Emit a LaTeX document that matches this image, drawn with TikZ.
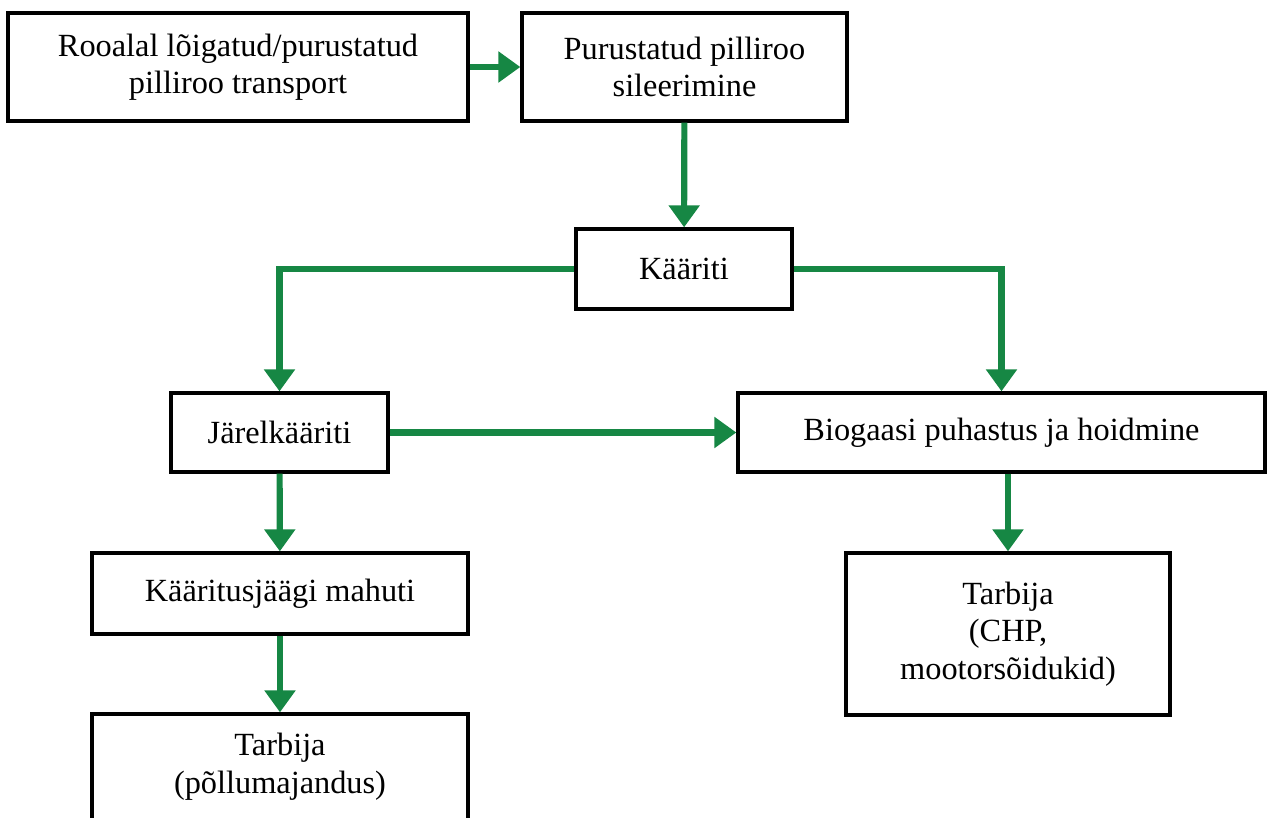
\documentclass[tikz,border=0pt]{standalone}
\usepackage{fontspec}
\setmainfont{Liberation Serif}
\usetikzlibrary{arrows.meta}
\definecolor{flowgreen}{RGB}{22,135,68}
\tikzset{
  box/.style={draw, line width=1.9pt, align=center, inner sep=0pt, font=\fontsize{18.4}{21.5}\selectfont},
  flow/.style={draw=flowgreen, line width=3.5pt, -{Triangle[length=0.44cm,width=0.6cm]}}
}

\begin{document}
\begin{tikzpicture}
    \clip (0,0) rectangle (25.36,-16.36);
    \node[box, minimum width=9.2cm, minimum height=2.16cm] (transport) at (4.76,-1.34) {\raisebox{-6pt}{\shortstack{Rooalal lõigatud/purustatud\\[1pt]pilliroo transport}}};
    \node[box, minimum width=6.5cm, minimum height=2.16cm] (sileerimine) at (13.69,-1.34) {Purustatud pilliroo\\sileerimine};
    \node[box, minimum width=4.32cm, minimum height=1.6cm] (kaariti) at (13.68,-5.38) {Kääriti};
    \node[box, minimum width=4.34cm, minimum height=1.58cm] (jarel) at (5.59,-8.65) {Järelkääriti};
    \node[box, minimum width=10.54cm, minimum height=1.58cm] (biogaas) at (20.03,-8.65) {Biogaasi puhastus ja hoidmine};
    \node[box, minimum width=7.52cm, minimum height=1.62cm] (mahuti) at (5.6,-11.87) {Kääritusjäägi mahuti};
    \node[box, minimum width=6.48cm, minimum height=3.24cm] (chp) at (20.16,-12.68) {Tarbija\\(CHP,\\mootorsõidukid)};
    \node[box, minimum width=7.52cm, minimum height=2.12cm] (pollu) at (5.6,-15.34) {Tarbija\\(põllumajandus)};

    % arrows
    \draw[flow] (transport) -- (sileerimine);
    \draw[flow] (sileerimine) -- (kaariti);
    \draw[flow] (kaariti.west) -| (jarel.north);
    \draw[flow] (kaariti.east) -| (biogaas.north);
    \draw[flow] (jarel) -- (biogaas);
    \draw[flow] (jarel) -- (mahuti);
    \draw[flow] (chp.north |- biogaas.south) -- (chp.north);
    \draw[flow] (mahuti) -- (pollu);
  \end{tikzpicture}
\end{document}
